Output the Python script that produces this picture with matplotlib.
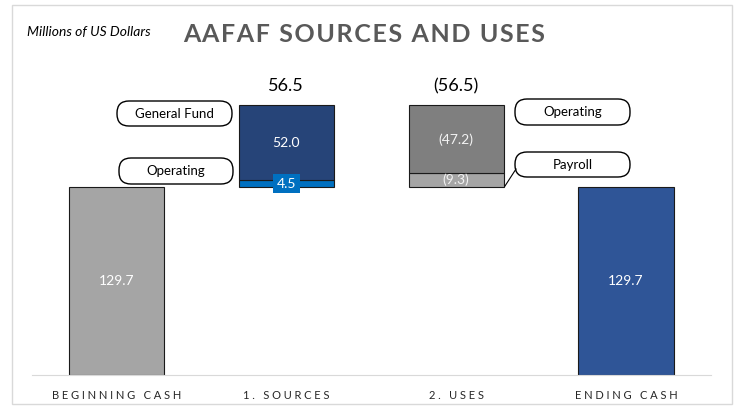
import matplotlib
matplotlib.use('Agg')
import matplotlib.pyplot as plt
from matplotlib.patches import FancyBboxPatch, Rectangle
from matplotlib.lines import Line2D

plt.rcParams['font.family'] = ['Lato', 'DejaVu Sans']

# Data (millions of US dollars)
categories = ['BEGINNING CASH', '1. SOURCES', '2. USES', 'ENDING CASH']
beginning_cash = 129.7
sources_labels = ['Operating', 'General Fund']
sources_values = [4.5, 52.0]
uses_labels = ['Payroll', 'Operating']
uses_values = [9.3, 47.2]
ending_cash = 129.7

col_begin = '#A5A5A5'
col_src = ['#0070C0', '#264478']
col_use = ['#A5A5A5', '#7F7F7F']
col_end = '#2F5597'
edge = '#1A1A1A'


def spaced(s, sp='\u2009'):
    return sp.join(s)


W, H = 735, 407
fig = plt.figure(figsize=(W / 100, H / 100), dpi=100)
ax = fig.add_axes([31.5 / W, (H - 375) / H, 679.5 / W, 290 / H])

x = list(range(len(categories)))
bw = 0.56

# beginning / ending cash
ax.bar(x[0], beginning_cash, bw, color=col_begin, edgecolor=edge, linewidth=0.8)
ax.bar(x[3], ending_cash, bw, color=col_end, edgecolor=edge, linewidth=0.8)
ax.text(x[0], beginning_cash / 2, f'{beginning_cash:.1f}', ha='center', va='center', color='white', fontsize=10)
ax.text(x[3], ending_cash / 2, f'{ending_cash:.1f}', ha='center', va='center', color='white', fontsize=10)

# sources (stacked upward from beginning cash)
bottom = beginning_cash
src_mid = []
for v, c in zip(sources_values, col_src):
    ax.bar(x[1], v, bw, bottom=bottom, color=c, edgecolor=edge, linewidth=0.8)
    src_mid.append(bottom + v / 2)
    bottom += v
src_top = bottom
ax.text(x[1], src_mid[0], f'{sources_values[0]:.1f}', ha='center', va='center', color='white', fontsize=10,
        bbox=dict(boxstyle='square,pad=0.25', facecolor=col_src[0], edgecolor='none'))
ax.text(x[1], src_mid[1], f'{sources_values[1]:.1f}', ha='center', va='center', color='white', fontsize=10)
ax.annotate(f'{sum(sources_values):.1f}', (x[1], src_top), xytext=(0, 13.5), textcoords='offset points',
            ha='center', va='center', fontsize=13, color='black')

# uses (stacked downward from top of sources)
top = src_top
bottom = top - sum(uses_values)
use_mid = []
for v, c in zip(uses_values, col_use):
    ax.bar(x[2], v, bw, bottom=bottom, color=c, edgecolor=edge, linewidth=0.8)
    use_mid.append(bottom + v / 2)
    bottom += v
ax.text(x[2], use_mid[0], f'({uses_values[0]:.1f})', ha='center', va='center', color='#F2F2F2', fontsize=10)
ax.text(x[2], use_mid[1], f'({uses_values[1]:.1f})', ha='center', va='center', color='#F2F2F2', fontsize=10)
ax.annotate(f'({sum(uses_values):.1f})', (x[2], top), xytext=(0, 13.5), textcoords='offset points',
            ha='center', va='center', fontsize=13, color='black')

ax.set_xlim(-0.5, 3.5)
ax.set_ylim(0, 200)
ax.set_yticks([])
ax.set_xticks(x)
ax.set_xticklabels([spaced(c, '\u2005') for c in categories], fontsize=8, color='#262626')
ax.tick_params(axis='x', length=0, pad=11)
for s in ['top', 'right', 'left']:
    ax.spines[s].set_visible(False)
ax.spines['bottom'].set_color('#D9D9D9')
ax.patch.set_alpha(0)


# callout boxes (pixel positions converted to inches)
def callout(x0, y0, x1, y1, text):
    box = FancyBboxPatch((x0 / 100, (H - y1) / 100), (x1 - x0) / 100, (y1 - y0) / 100,
                         boxstyle='round,pad=0,rounding_size=0.12', transform=fig.dpi_scale_trans,
                         facecolor='white', edgecolor='black', linewidth=1.0)
    fig.add_artist(box)
    fig.text((x0 + x1) / 2 / W, (H - (y0 + y1) / 2) / H, text, ha='center', va='center', fontsize=9.5)


callout(117, 101, 232, 126, sources_labels[1])
callout(119, 158, 233, 184, sources_labels[0])
callout(515, 99, 630, 125, uses_labels[1])
callout(515, 152, 630, 177, uses_labels[0])
fig.add_artist(Line2D([516 / W, 505 / W], [(H - 169) / H, (H - 186) / H], color='black', linewidth=0.8))

# frame and titles
fig.add_artist(Rectangle((12 / W, (H - 404) / H), 720 / W, 399 / H, transform=fig.transFigure,
                         fill=False, edgecolor='#D9D9D9', linewidth=1))
fig.text(27 / W, (H - 32) / H, 'Millions of US Dollars', fontsize=10, style='italic', va='center', ha='left')
fig.text(364 / W, (H - 34) / H, spaced('AAFAF SOURCES AND USES', '\u200a'), fontsize=18, fontweight='bold',
         color='#595959', ha='center', va='center')

fig.savefig('out.png', dpi=100)
